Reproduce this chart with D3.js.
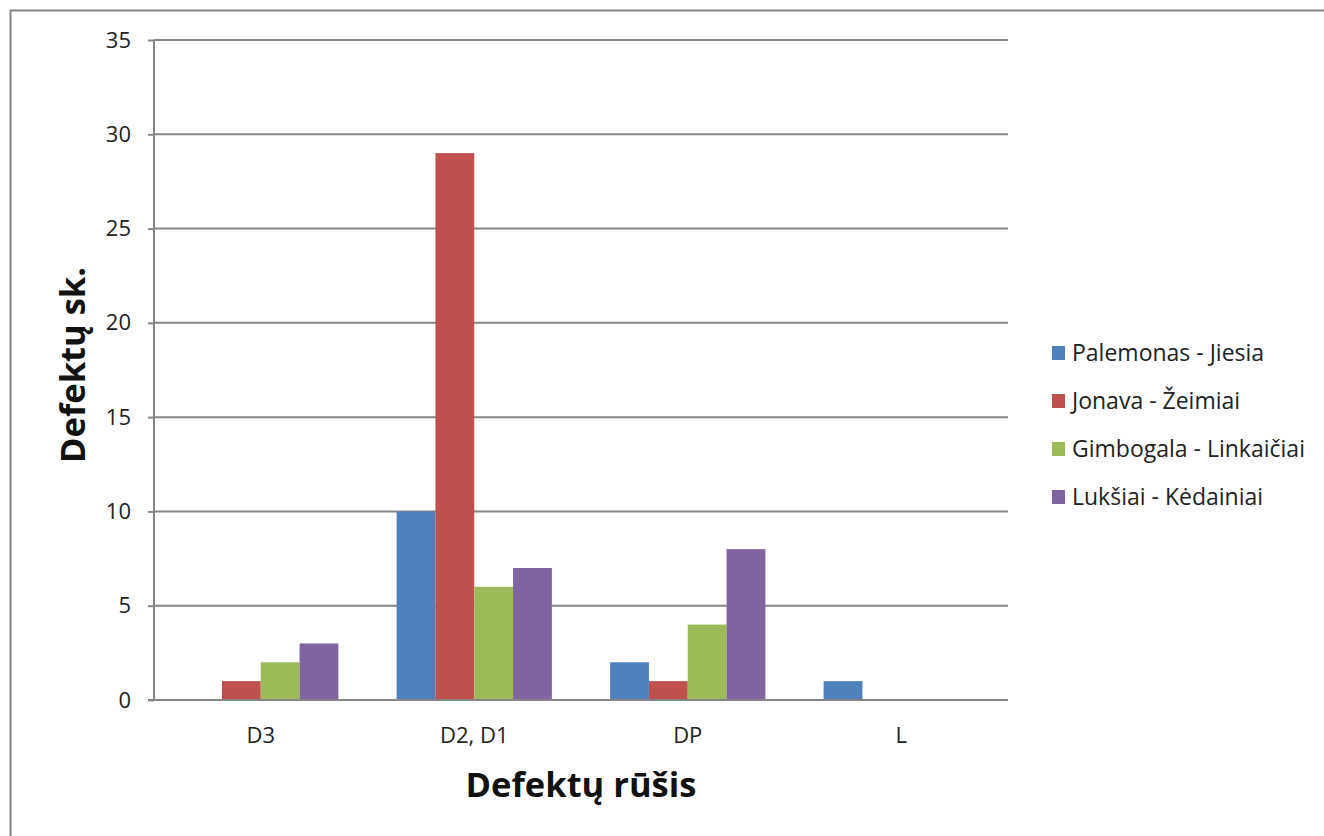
<!DOCTYPE html>
<html>
<head>
<meta charset="utf-8">
<script src="https://cdn.jsdelivr.net/npm/d3@7"></script>
<style>
  html, body { margin: 0; padding: 0; background: #fff; }
  svg { display: block; font-family: "Open Sans", Lato, sans-serif; }
</style>
</head>
<body>
<svg id="chart" width="1324" height="836"></svg>
<script>
// Defect counts per road section and defect type
const categories = ["D3", "D2, D1", "DP", "L"];
const seriesNames = ["Palemonas - Jiesia", "Jonava - Žeimiai", "Gimbogala - Linkaičiai", "Lukšiai - Kėdainiai"];
const palemonasJiesia = [0, 10, 2, 1];
const jonavaZeimiai = [1, 29, 1, 0];
const gimbogalaLinkaiciai = [2, 6, 4, 0];
const luksiaiKedainiai = [3, 7, 8, 0];
const seriesValues = [palemonasJiesia, jonavaZeimiai, gimbogalaLinkaiciai, luksiaiKedainiai];
const seriesColors = ["#4F81BD", "#C0504D", "#9BBB59", "#8064A2"];
const yTicks = [0, 5, 10, 15, 20, 25, 30, 35];

const svg = d3.select("#chart");
const W = 1324, H = 836;
const plot = { left: 154, right: 1008, top: 40, bottom: 700 };
const gridColor = "#868686";
const labelFont = "\"Open Sans\", sans-serif";

// outer frame
svg.append("rect")
  .attr("x", 10.5).attr("y", 10.5)
  .attr("width", W + 20).attr("height", H + 20)
  .attr("fill", "#fff").attr("stroke", gridColor).attr("stroke-width", 2);

const x0 = d3.scaleBand().domain(categories).range([plot.left, plot.right]).paddingInner(0).paddingOuter(0);
// Excel-style gap: 150% of one bar width split around the group
const groupFrac = 4 / 5.5;
const x1 = d3.scaleBand().domain(d3.range(seriesNames.length))
  .range([0, x0.bandwidth() * groupFrac]);
const groupOffset = (x0.bandwidth() * (1 - groupFrac)) / 2;

const y = d3.scaleLinear().domain([0, 35]).range([plot.bottom, plot.top]);

// horizontal gridlines
svg.append("g").selectAll("line")
  .data(yTicks.filter(t => t > 0))
  .join("line")
  .attr("x1", plot.left).attr("x2", plot.right)
  .attr("y1", d => y(d)).attr("y2", d => y(d))
  .attr("stroke", gridColor).attr("stroke-width", 2);

// bars
const rows = [];
seriesValues.forEach((vals, si) => vals.forEach((v, ci) => rows.push({ si, ci, v })));
svg.append("g").selectAll("rect")
  .data(rows.filter(r => r.v > 0))
  .join("rect")
  .attr("x", d => x0(categories[d.ci]) + groupOffset + x1(d.si))
  .attr("y", d => y(d.v))
  .attr("width", x1.bandwidth())
  .attr("height", d => y(0) - y(d.v))
  .attr("fill", d => seriesColors[d.si]);

// y axis
const yAxis = d3.axisLeft(y).tickValues(yTicks).tickSize(6).tickPadding(17);
const gy = svg.append("g").attr("transform", `translate(${plot.left},0)`).call(yAxis);
gy.select(".domain").attr("stroke", gridColor).attr("stroke-width", 2).attr("d", `M0,${plot.top}V${plot.bottom}`);
gy.selectAll(".tick line").attr("stroke", gridColor).attr("stroke-width", 2);
gy.selectAll(".tick text").attr("font-size", 22).attr("fill", "#222").attr("font-family", labelFont);

// x axis
const xAxis = d3.axisBottom(x0).tickSize(0).tickPadding(27);
const gx = svg.append("g").attr("transform", `translate(0,${plot.bottom})`).call(xAxis);
gx.select(".domain").attr("stroke", gridColor).attr("stroke-width", 2).attr("d", `M${plot.left - 6},0H${plot.right}`);
gx.selectAll(".tick text").attr("font-size", 22).attr("fill", "#222").attr("font-family", labelFont);

// axis titles
svg.append("text")
  .attr("x", 581).attr("y", 797)
  .attr("text-anchor", "middle")
  .attr("font-size", 34.5).attr("font-weight", "bold").attr("fill", "#111")
  .text("Defektų rūšis");

svg.append("text")
  .attr("transform", "translate(85,365) rotate(-90)")
  .attr("text-anchor", "middle")
  .attr("font-size", 34.5).attr("font-weight", "bold").attr("fill", "#111")
  .text("Defektų sk.");

// legend
const legend = svg.append("g").attr("transform", "translate(1052,353)");
const item = legend.selectAll("g").data(seriesNames).join("g")
  .attr("transform", (d, i) => `translate(0,${i * 48})`);
item.append("rect")
  .attr("x", 0).attr("y", -7).attr("width", 13).attr("height", 14)
  .attr("fill", (d, i) => seriesColors[i]);
item.append("text")
  .attr("x", 20).attr("y", 8)
  .attr("font-size", 23).attr("fill", "#222")
  .text(d => d);
</script>
</body>
</html>
